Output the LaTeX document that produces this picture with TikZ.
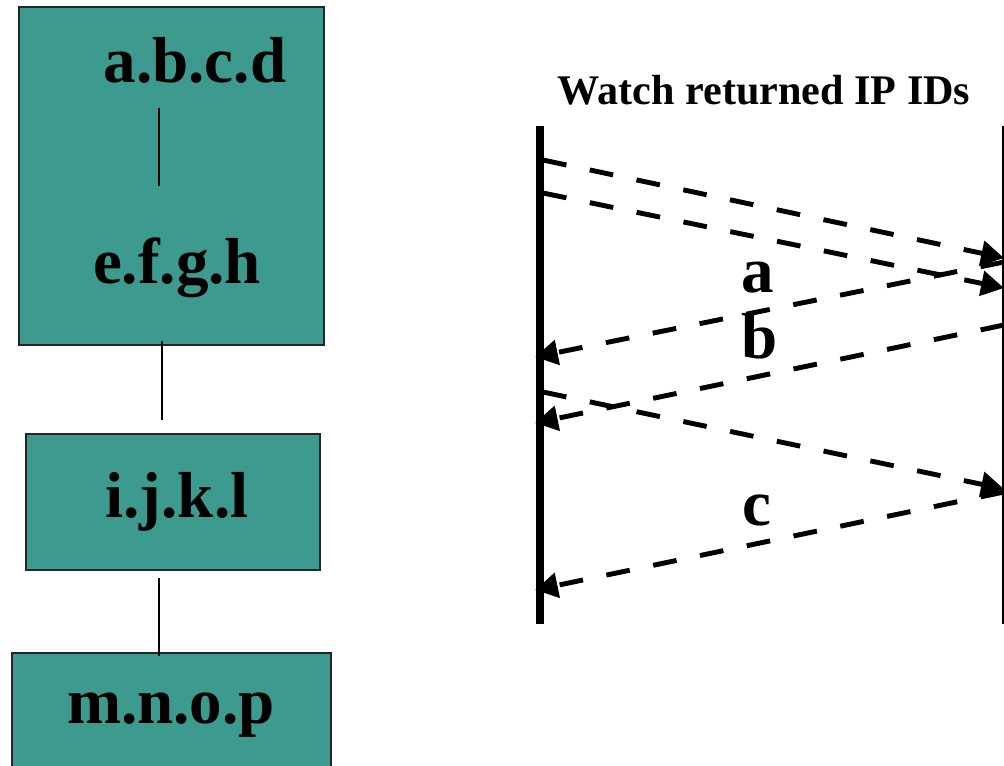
\documentclass[tikz,border=0pt]{standalone}
\usepackage{fontspec}
\setmainfont{Liberation Serif}
\usetikzlibrary{arrows.meta}
\definecolor{boxteal}{RGB}{61,154,142}

\begin{document}
\begin{tikzpicture}[x=0.02cm,y=-0.02cm,line width=0.6pt,
  box/.style={draw=black!85,fill=boxteal,line width=0.7pt,inner sep=0pt,outer sep=0pt,anchor=north west},
  lbl/.style={anchor=base,font=\bfseries\fontsize{37}{40}\selectfont},
  msg/.style={line width=2.8pt,dash pattern=on 13.6pt off 13.6pt,-{Triangle[length=13pt,width=14pt]}}]
\useasboundingbox (0,0) rectangle (1004,765);
% address boxes
\node[box,minimum width=6.10cm,minimum height=6.76cm] (boxA) at (19,7) {};
\node[box,minimum width=5.88cm,minimum height=2.72cm] (boxB) at (26,434) {};
\node[box,minimum width=6.38cm,minimum height=2.40cm] (boxC) at (12,653) {};
\node[lbl] (abcd) at (195,82) {a.b.c.d};
\node[lbl] (efgh) at (177,283) {e.f.g.h};
\node[lbl] (ijkl) at (177,517) {i.j.k.l};
\node[lbl] (mnop) at (171,723) {m.n.o.p};
\coordinate (l1a) at (159,108); \coordinate (l1b) at (159,186);
\coordinate (l2a) at (162,341); \coordinate (l2b) at (162,420);
\coordinate (l3a) at (159,578); \coordinate (l3b) at (159,656);
\draw (l1a) -- (l1b);
\draw (l2a) -- (l2b);
\draw (l3a) -- (l3b);
% timeline
\node[anchor=base,font=\bfseries\fontsize{24}{28}\selectfont] (title) at (764,104) {Watch returned IP IDs};
\coordinate (srcT) at (540,126); \coordinate (srcB) at (540,624);
\coordinate (dstT) at (1003,126); \coordinate (dstB) at (1003,624);
\draw[line width=4pt] (srcT) -- (srcB);
\draw[line width=1.2pt] (dstT) -- (dstB);
\coordinate (s1) at (543,160); \coordinate (d1) at (1004,258);
\coordinate (s2) at (543,193); \coordinate (d2) at (1004,288);
\coordinate (s3) at (1004,262); \coordinate (d3) at (535,357);
\coordinate (s4) at (1004,325); \coordinate (d4) at (535,423);
\coordinate (s5) at (543,392); \coordinate (d5) at (1004,489);
\coordinate (s6) at (1004,492); \coordinate (d6) at (535,590);
\draw[msg] (s1) -- (d1);
\draw[msg] (s2) -- (d2);
\draw[msg] (s3) -- (d3);
\draw[msg] (s4) -- (d4);
\draw[msg] (s5) -- (d5);
\draw[msg] (s6) -- (d6);
\node[lbl] (la) at (758,292) {a};
\node[lbl] (lb) at (760,358) {b};
\node[lbl] (lc) at (757,525) {c};
\end{tikzpicture}
\end{document}
